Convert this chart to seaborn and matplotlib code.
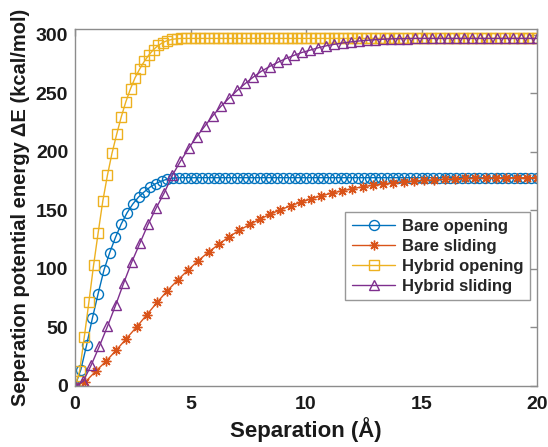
import matplotlib
matplotlib.use("Agg")
import matplotlib.pyplot as plt
import seaborn as sns
import numpy as np

# Separation grids (Å) for each curve
x_bare_opening = np.linspace(0, 20, 81)
x_bare_sliding = np.linspace(0, 20, 46)
x_hybrid_opening = np.linspace(0, 20, 101)
x_hybrid_sliding = np.linspace(0, 20, 58)

# Separation potential energy (kcal/mol)
bare_opening = [
    0, 14, 35, 58, 79, 99, 114, 127, 138.5, 148, 155.5, 161.5, 166, 170, 173,
    175.2, 176.8, 177.6, 178, 178, 178, 178, 178, 178, 178, 178, 178, 178, 178,
    178, 178, 178, 178, 178, 178, 178, 178, 178, 178, 178, 178, 178, 178, 178,
    178, 178, 178, 178, 178, 178, 178, 178, 178, 178, 178, 178, 178, 178, 178,
    178, 178, 178, 178, 178, 178, 178, 178, 178, 178, 178, 178, 178, 178, 178,
    178, 178, 178, 178, 178, 178, 178,
]
bare_sliding = [
    0, 3.5, 12.5, 21, 30.5, 40.5, 50.5, 61, 71.5, 81.5, 90.5, 99, 107, 114.5,
    121, 127.5, 133, 138, 142.5, 146.8, 150.5, 154, 157, 160, 162.5, 164.8,
    166.8, 168.6, 170.2, 171.5, 172.6, 173.6, 174.4, 175.1, 175.7, 176.2, 176.6,
    177.0, 177.3, 177.5, 177.7, 177.8, 177.9, 178, 178, 178,
]
hybrid_opening = [
    0, 13, 42, 72, 103, 131, 158, 180, 199, 215, 230, 243, 254, 263.5, 271,
    277.5, 283, 287.5, 291, 293.5, 295.2, 296.2, 296.7, 297, 297, 297, 297, 297,
    297, 297, 297, 297, 297, 297, 297, 297, 297, 297, 297, 297, 297, 297, 297,
    297, 297, 297, 297, 297, 297, 297, 297, 297, 297, 297, 297, 297, 297, 297,
    297, 297, 297, 297, 297, 297, 297, 297, 297, 297, 297, 297, 297, 297, 297,
    297, 297, 297, 297, 297, 297, 297, 297, 297, 297, 297, 297, 297, 297, 297,
    297, 297, 297, 297, 297, 297, 297, 297, 297, 297, 297, 297, 297,
]
hybrid_sliding = [
    0, 4, 18, 34, 51, 69, 88, 106, 122, 138, 152, 165, 180, 192, 203, 213, 222,
    231, 239, 246, 252.5, 258.5, 264, 269, 273, 276.5, 279.8, 282.5, 285, 287,
    289, 290.7, 292, 293.1, 294, 294.8, 295.4, 295.9, 296.3, 296.6, 296.8, 296.9,
    297, 297, 297, 297, 297, 297, 297, 297, 297, 297, 297, 297, 297, 297, 297, 297,
]

labels = ["Bare opening", "Bare sliding", "Hybrid opening", "Hybrid sliding"]
colors = ["#0072BD", "#D95319", "#EDB120", "#7E2F8E"]
markers = ["o", (8, 2, 0), "s", "^"]
marker_sizes = [7.2, 7.0, 6.5, 7.5]
xs = [x_bare_opening, x_bare_sliding, x_hybrid_opening, x_hybrid_sliding]
ys = [bare_opening, bare_sliding, hybrid_opening, hybrid_sliding]

sns.set_theme(style="white")
plt.rcParams["font.family"] = ["Liberation Sans", "DejaVu Sans"]
plt.rcParams["font.weight"] = "bold"

fig = plt.figure(figsize=(5.48, 4.47), dpi=100)
ax = fig.add_axes([0.137, 0.1365, 0.843, 0.7985])

for x, y, lab, c, m, ms in zip(xs, ys, labels, colors, markers, marker_sizes):
    sns.lineplot(
        x=x, y=y, ax=ax, color=c, marker=m, label=lab,
        linewidth=1.0, markersize=ms,
        markerfacecolor="none", markeredgecolor=c, markeredgewidth=1.0,
        estimator=None, sort=False, legend=False,
    )

ax.set_xlim(0, 20)
ax.set_ylim(0, 305)
ax.set_xticks([0, 5, 10, 15, 20])
ax.set_yticks([0, 50, 100, 150, 200, 250, 300])

axis_gray = "#8c8c8c"
for s in ax.spines.values():
    s.set_visible(True)
    s.set_color(axis_gray)
    s.set_linewidth(1.0)
ax.tick_params(axis="both", which="both", direction="in", length=5,
               width=1.0, color=axis_gray, top=True, right=True,
               labelsize=14, labelcolor="#1a1a1a")
ax.tick_params(axis="x", pad=7)
ax.tick_params(axis="y", pad=5)
for t in ax.get_xticklabels() + ax.get_yticklabels():
    t.set_fontweight("bold")

ax.set_xlabel("Separation (Å)", fontsize=16, fontweight="bold", color="#1a1a1a", labelpad=3)
ax.set_ylabel("Seperation potential energy \u0394E (kcal/mol)", fontsize=14.5,
              fontweight="bold", color="#1a1a1a", labelpad=4)

handles = ax.get_lines()[:4]
leg = ax.legend(handles=handles, labels=labels, loc="upper right",
                bbox_to_anchor=(0.985, 0.487), fontsize=12, frameon=True,
                fancybox=False, edgecolor="#7f7f7f", handlelength=2.6,
                handletextpad=0.4, borderpad=0.4, labelspacing=0.3,
                borderaxespad=0.0)
leg.get_frame().set_linewidth(1.0)
for t in leg.get_texts():
    t.set_fontweight("bold")

fig.savefig("out.png", dpi=100)
